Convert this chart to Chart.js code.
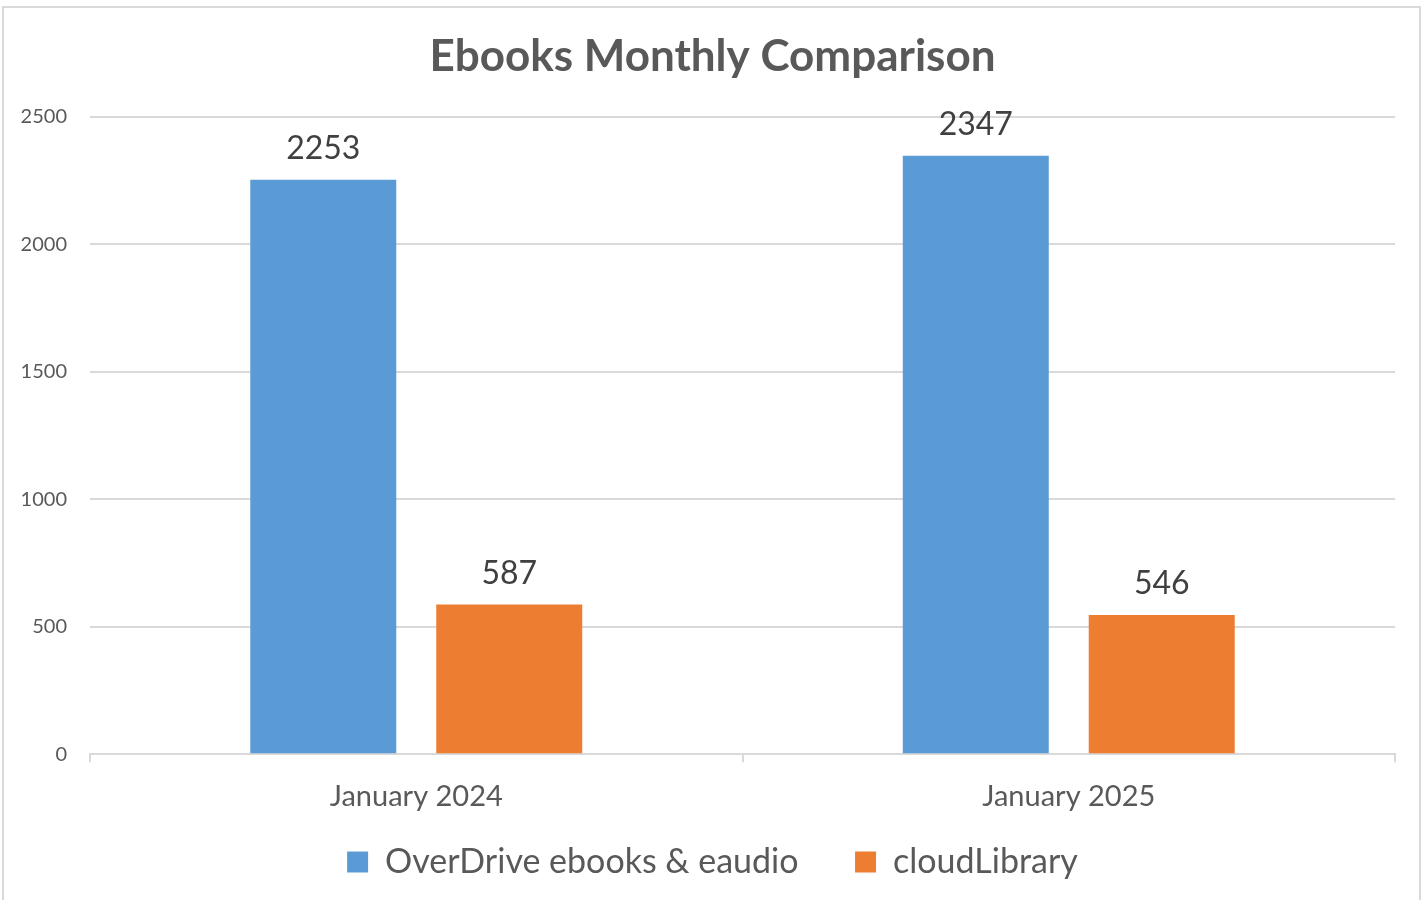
<!DOCTYPE html>
<html>
<head>
<meta charset="utf-8">
<script src="https://cdn.jsdelivr.net/npm/chart.js@4"></script>
<style>
  html, body { margin: 0; padding: 0; background: #fff; }
  #frame { position: absolute; left: 2px; top: 6px; width: 1419px; height: 900px; border: 2px solid #d9d9d9; box-sizing: border-box; }
  #wrap { position: absolute; left: 0; top: 0; width: 1425px; height: 900px; }
</style>
</head>
<body>
<div id="frame"></div>
<div id="wrap"><canvas id="chart" width="1425" height="900"></canvas></div>
<script>
// values
const months = ["January 2024", "January 2025"];
const overdrive = [2253, 2347];
const cloudLibrary = [587, 546];
const seriesNames = ["OverDrive ebooks & eaudio", "cloudLibrary"];

const FONT = "Lato, 'Open Sans', sans-serif";
const grey = "#595959";

// draws the number over each bar
const barLabels = {
  id: "barLabels",
  afterDatasetsDraw(chart) {
    const ctx = chart.ctx;
    ctx.save();
    ctx.font = "32px " + FONT;
    ctx.fillStyle = "#404040";
    ctx.textAlign = "center";
    ctx.textBaseline = "bottom";
    chart.data.datasets.forEach(function(ds, i) {
      chart.getDatasetMeta(i).data.forEach(function(bar, j) {
        ctx.fillText(ds.data[j], bar.x, bar.y - 15);
      });
    });
    ctx.restore();
  }
};

new Chart(document.getElementById("chart"), {
  type: "bar",
  data: {
    labels: months,
    datasets: [
      // trailing spaces widen the gap between the two legend entries
      { label: seriesNames[0] + "\u2003\u2002", data: overdrive, backgroundColor: "#5B9BD5" },
      { label: seriesNames[1], data: cloudLibrary, backgroundColor: "#ED7D31" }
    ]
  },
  options: {
    responsive: false,
    animation: false,
    categoryPercentage: 0.57,
    barPercentage: 0.785,
    layout: { padding: { left: 0, right: 0, top: 30, bottom: 11 } },
    plugins: {
      title: {
        display: true,
        text: "Ebooks Monthly Comparison",
        color: grey,
        font: { family: FONT, size: 44, weight: "bold" },
        padding: { top: 0, bottom: 34 }
      },
      legend: {
        position: "bottom",
        labels: {
          color: grey,
          font: { family: FONT, size: 34 },
          boxWidth: 21,
          boxHeight: 21,
          padding: 14
        }
      },
      tooltip: { enabled: false }
    },
    scales: {
      x: {
        grid: { offset: true, drawOnChartArea: false, color: "#d9d9d9", tickLength: 8, lineWidth: 2 },
        border: { color: "#d9d9d9", width: 2 },
        ticks: { color: grey, font: { family: FONT, size: 29 }, padding: 17 }
      },
      y: {
        min: 0,
        max: 2500,
        ticks: {
          stepSize: 500, color: grey, font: { family: FONT, size: 20 }, padding: 23,
          callback: function(v) { return String(v); }
        },
        grid: { color: "#d9d9d9", lineWidth: 2, drawTicks: false },
        border: { display: false },
        afterFit: function(scale) { scale.width = 90; }
      },
      spacer: {
        position: "right",
        display: true,
        ticks: { display: false },
        grid: { display: false },
        border: { display: false },
        afterFit: function(scale) { scale.width = 30; }
      }
    }
  },
  plugins: [barLabels]
});
</script>
</body>
</html>
